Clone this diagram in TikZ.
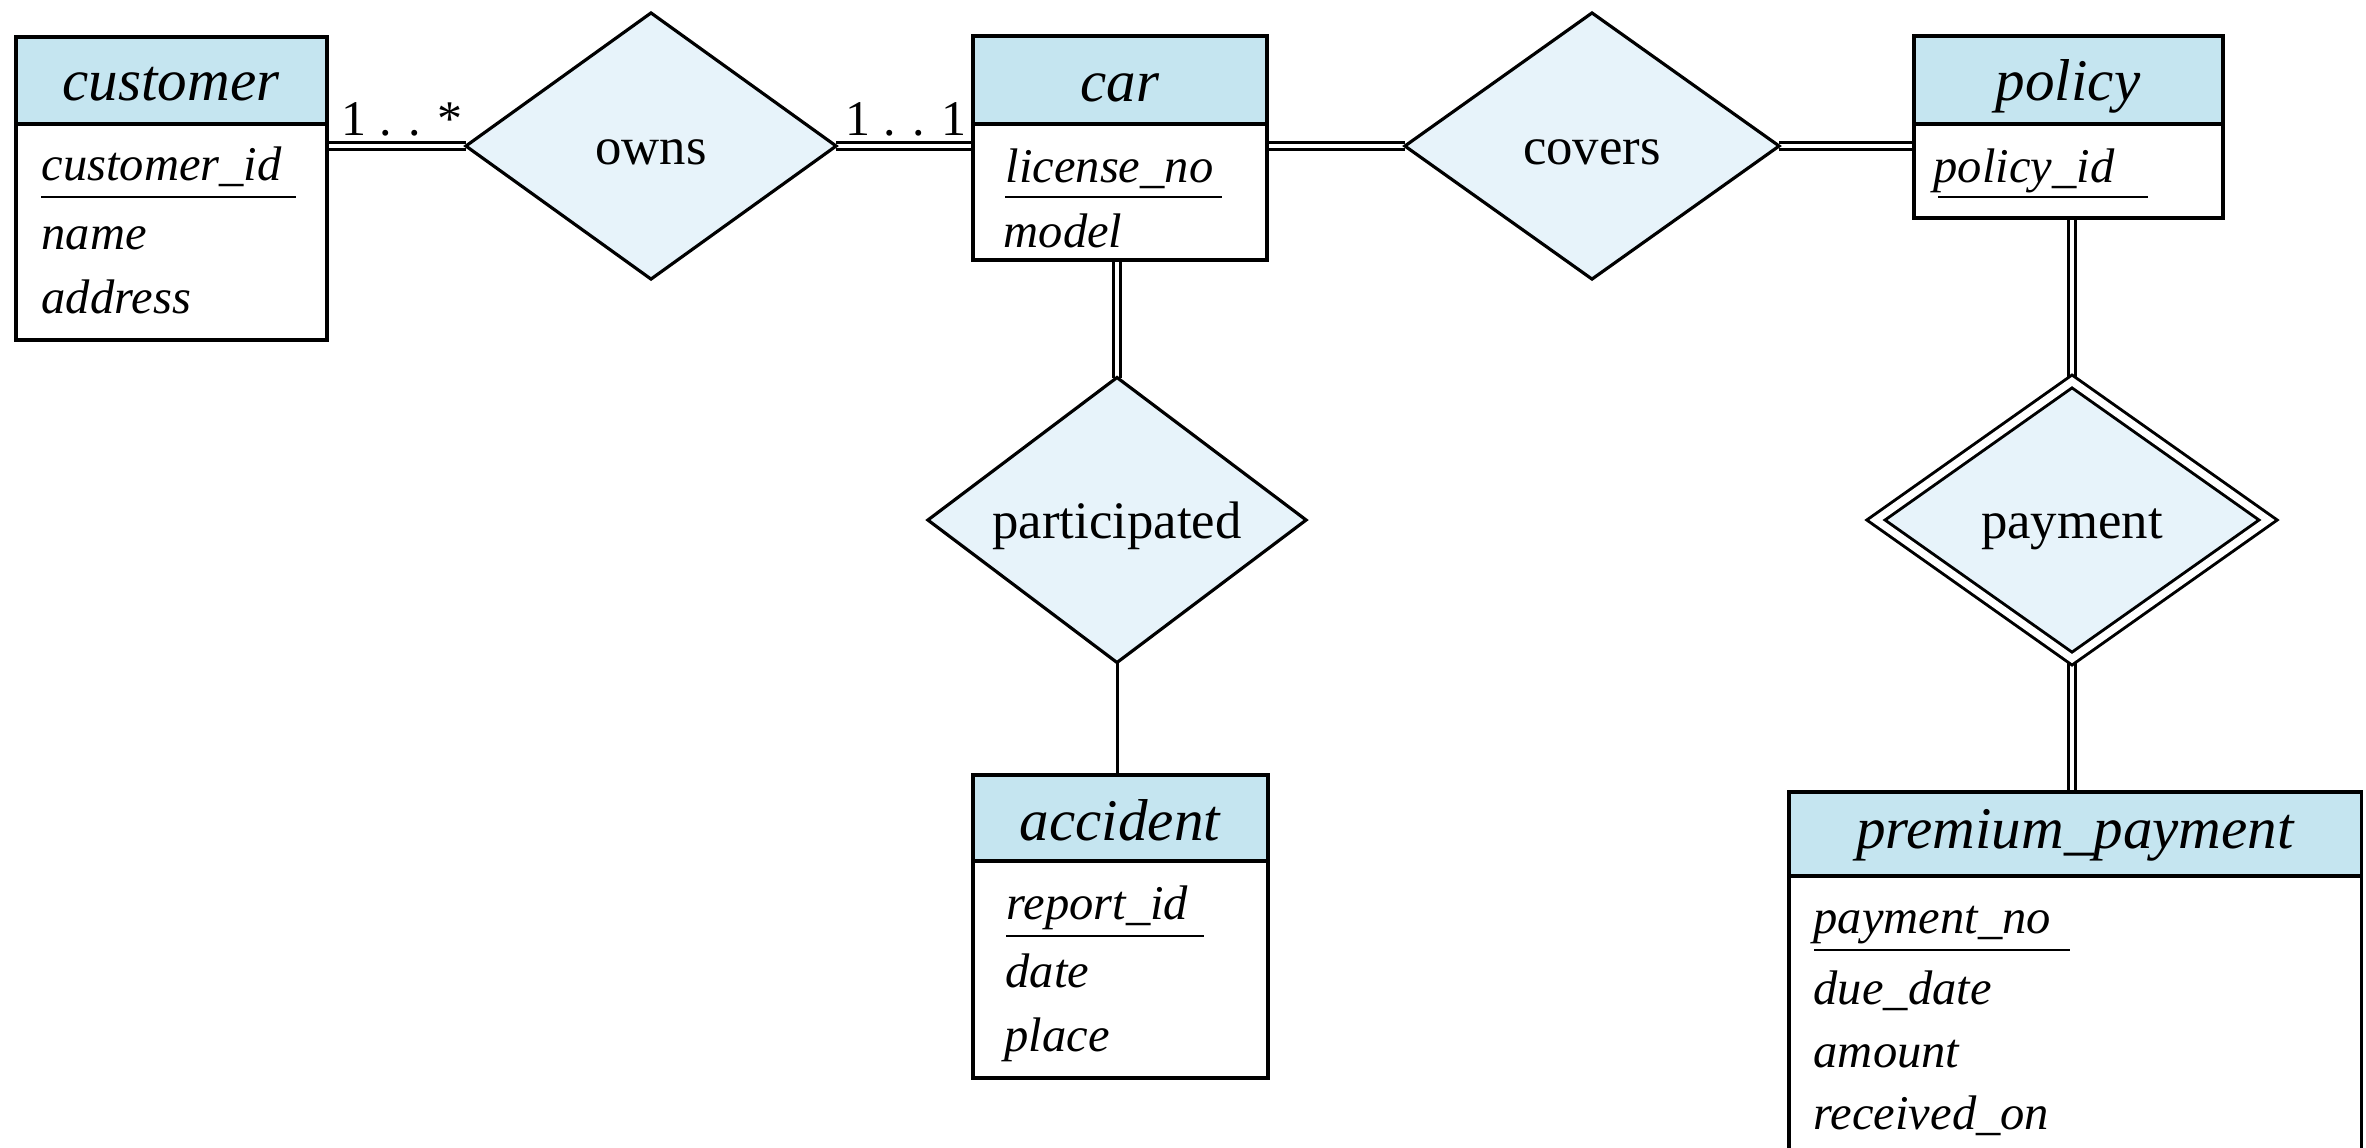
\documentclass[tikz,border=0pt]{standalone}
\usepackage{fontspec}
\setmainfont{Liberation Serif}
\usetikzlibrary{shapes.geometric,calc}
\definecolor{headfill}{RGB}{197,229,240}
\definecolor{relfill}{RGB}{231,243,250}
\pgfdeclarelayer{background}
\pgfsetlayers{background,main}
\begin{document}
\begin{tikzpicture}[x=0.01cm,y=-0.01cm,
  entbox/.style={draw, line width=1pt, fill=white, inner sep=0pt, outer sep=0pt, anchor=north west},
  hdr/.style={draw, line width=1pt, fill=headfill},
  ttl/.style={anchor=base, inner sep=0pt, font=\fontsize{16.8}{20}\selectfont\itshape},
  attr/.style={anchor=base west, inner sep=0pt, font=\fontsize{13.8}{16}\selectfont\itshape},
  rel/.style={diamond, draw, line width=0.9pt, fill=relfill, inner sep=0pt, outer sep=0pt,
    font=\fontsize{15}{18}\selectfont, text height=0.36cm, text depth=0pt},
  mult/.style={anchor=base west, inner sep=0pt, font=\fontsize{14.2}{17}\selectfont},
  ul/.style={line width=0.8pt},
  tot/.style={double, double distance=1.15pt, line width=0.85pt},
  one/.style={line width=0.85pt}
]
\useasboundingbox (0,0) rectangle (2366,1147);
\clip (0,0) rectangle (2366,1147);

% ---- entity: customer
\node[entbox, minimum width=3.11cm, minimum height=3.03cm] (customer) at (16,37) {};
\draw[hdr] (customer.north west) rectangle ($(customer.north east)+(0,87)$);
\node[ttl] (customerT) at (171,100) {customer};
\node[attr] (customerA1) at (41,180) {customer\_id};
\draw[ul] (41,197) -- (296,197);
\node[attr] (customerA2) at (41,249) {name};
\node[attr] (customerA3) at (41,313) {address};

% ---- entity: car
\node[entbox, minimum width=2.94cm, minimum height=2.24cm] (car) at (973,36) {};
\draw[hdr] (car.north west) rectangle ($(car.north east)+(0,88)$);
\node[ttl] (carT) at (1120,101) {car};
\node[attr] (carA1) at (1005,182) {license\_no};
\draw[ul] (1005,197) -- (1222,197);
\node[attr] (carA2) at (1003,247) {model};

% ---- entity: policy
\node[entbox, minimum width=3.09cm, minimum height=1.82cm] (policy) at (1914,36) {};
\draw[hdr] (policy.north west) rectangle ($(policy.north east)+(0,88)$);
\node[ttl] (policyT) at (2068,100) {policy};
\node[attr] (policyA1) at (1933,182) {policy\_id};
\draw[ul] (1938,197) -- (2148,197);

% ---- entity: accident
\node[entbox, minimum width=2.95cm, minimum height=3.03cm] (accident) at (973,775) {};
\draw[hdr] (accident.north west) rectangle ($(accident.north east)+(0,86)$);
\node[ttl] (accidentT) at (1120,840) {accident};
\node[attr] (accidentA1) at (1006,919) {report\_id};
\draw[ul] (1006,936) -- (1204,936);
\node[attr] (accidentA2) at (1005,987) {date};
\node[attr] (accidentA3) at (1004,1051) {place};

% ---- entity: premium_payment
\node[entbox, minimum width=5.72cm, minimum height=4.0cm] (premium) at (1789,792) {};
\draw[hdr] (premium.north west) rectangle ($(premium.north east)+(0,84)$);
\node[ttl] (premiumT) at (2075,848) {premium\_payment};
\node[attr] (premiumA1) at (1813,933) {payment\_no};
\draw[ul] (1814,950) -- (2070,950);
\node[attr] (premiumA2) at (1813,1004) {due\_date};
\node[attr] (premiumA3) at (1813,1067) {amount};
\node[attr] (premiumA4) at (1813,1129) {received\_on};

% ---- relationships
\node[rel, minimum width=3.70cm, minimum height=2.66cm] (owns) at (651,146) {owns};
\node[rel, minimum width=3.74cm, minimum height=2.66cm] (covers) at (1592,146) {covers};
\node[rel, minimum width=3.78cm, minimum height=2.63cm] (participated) at (1117,520) {participated};
\node[rel, line width=0.85pt, double=white, double distance=2.1pt, minimum width=3.92cm, minimum height=2.77cm] (payment) at (2072,520) {payment};

% ---- multiplicities
\node[mult] (m1) at (341,135) {1 . . *};
\node[mult] (m2) at (845,135) {1 . . 1};

% ---- connectors
\begin{pgfonlayer}{background}
\fill[white] (0,0) rectangle (2366,1147);
\draw[tot] (owns.west) -- (owns.west -| customer.east);
\draw[tot] (owns.east) -- (owns.east -| car.west);
\draw[tot] (covers.west) -- (covers.west -| car.east);
\draw[tot] (covers.east) -- (covers.east -| policy.west);
\draw[tot] (participated.north) -- (participated.north |- car.south);
\draw[one] (participated.south) -- (participated.south |- accident.north);
\draw[tot] (payment.north) -- (payment.north |- policy.south);
\draw[tot] (payment.south) -- (payment.south |- premium.north);
\end{pgfonlayer}
\end{tikzpicture}
\end{document}
